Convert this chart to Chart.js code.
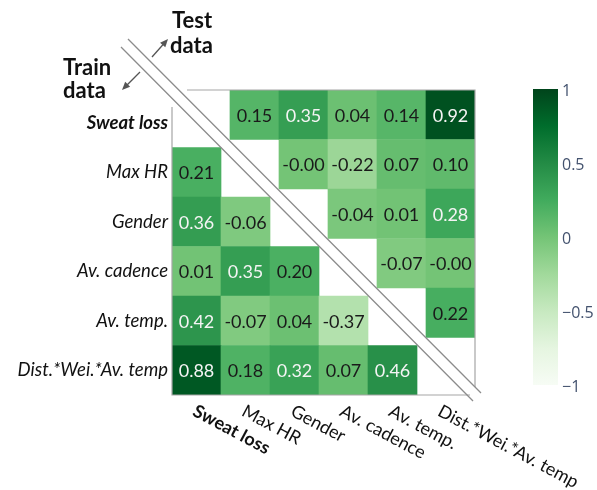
<!DOCTYPE html>
<html>
<head>
<meta charset="utf-8">
<script src="https://cdn.jsdelivr.net/npm/chart.js@4.4.1/dist/chart.umd.min.js"></script>
<style>
  html, body { margin: 0; padding: 0; background: #fff; }
  #wrap { width: 597px; height: 490px; position: relative; }
</style>
</head>
<body>
<div id="wrap"><canvas id="heatmap"></canvas></div>
<script>
const rowLabels = ["Sweat loss", "Max HR", "Gender", "Av. cadence", "Av. temp.", "Dist.*Wei.*Av. temp"];
const colLabels = ["Sweat loss", "Max HR", "Gender", "Av. cadence", "Av. temp.", "Dist.*Wei.*Av. temp"];

// train data = lower triangle, row r holds columns 0..r-1
const trainValues = [
  [],
  [0.21],
  [0.36, -0.06],
  [0.01, 0.35, 0.20],
  [0.42, -0.07, 0.04, -0.37],
  [0.88, 0.18, 0.32, 0.07, 0.46]
];
// test data = upper triangle, row r holds columns r+1..5
const testValues = [
  [0.15, 0.35, 0.04, 0.14, 0.92],
  [-0.00, -0.22, 0.07, 0.10],
  [-0.04, 0.01, 0.28],
  [-0.07, -0.00],
  [0.22],
  []
];
const colorbarTicks = [1, 0.5, 0, -0.5, -1];
const colorbarLabels = ["1", "0.5", "0", "\u22120.5", "\u22121"];

// Greens colour scale, -1 -> 1
const greens = [[247,252,245],[229,245,224],[199,233,192],[161,217,155],[116,196,118],[65,171,93],[35,139,69],[0,109,44],[0,68,27]];
function greenFor(v) {
  let t = (v + 1) / 2 * 8;
  let i = Math.min(7, Math.max(0, Math.floor(t)));
  let f = t - i;
  let a = greens[i], b = greens[i + 1];
  let c = a.map((x, k) => Math.round(x + (b[k] - x) * f));
  return `rgb(${c[0]},${c[1]},${c[2]})`;
}
function fmt(v) {
  return (v < 0 || Object.is(v, -0)) ? "-" + Math.abs(v).toFixed(2) : v.toFixed(2);
}

let trainCells = [];
trainValues.forEach((row, r) => row.forEach((v, c) => trainCells.push({ x: c, y: [r - 0.5, r + 0.5], v: v })));
let testCells = [];
testValues.forEach((row, r) => row.forEach((v, i) => testCells.push({ x: r + 1 + i, y: [r - 0.5, r + 0.5], v: v })));

// the two triangles are offset along the diagonal
const cellW = 49.1, cellH = 49.5, shiftX = 9, shiftY = 8;
const spanX = 6 + shiftX / cellW, spanY = 6 + shiftY / cellH;
const intTicks = s => { s.ticks = rowLabels.map((_, i) => ({ value: i })); };
// axes that only position the cells: ticks kept at whole cells, nothing drawn, no room taken
const silentAxis = extra => Object.assign({
  type: "linear", offset: false, display: true,
  grid: { display: false, drawTicks: false }, border: { display: false },
  ticks: { display: false },
  afterBuildTicks: intTicks,
  afterFit: s => { if (s.isHorizontal()) s.height = 0; else s.width = 0; }
}, extra);

function arrow(ctx, x0, y0, x1, y1) {
  let ang = Math.atan2(y1 - y0, x1 - x0);
  ctx.beginPath();
  ctx.moveTo(x0, y0);
  ctx.lineTo(x1 - 5 * Math.cos(ang), y1 - 5 * Math.sin(ang));
  ctx.stroke();
  ctx.beginPath();
  ctx.moveTo(x1, y1);
  ctx.lineTo(x1 - 8 * Math.cos(ang) + 3.5 * Math.sin(ang), y1 - 8 * Math.sin(ang) - 3.5 * Math.cos(ang));
  ctx.lineTo(x1 - 8 * Math.cos(ang) - 3.5 * Math.sin(ang), y1 - 8 * Math.sin(ang) + 3.5 * Math.cos(ang));
  ctx.closePath();
  ctx.fill();
}

const decorations = {
  id: "decorations",
  afterDatasetsDraw(chart) {
    let ctx = chart.ctx;
    ctx.save();
    ctx.font = "18px Lato";
    ctx.textAlign = "center";
    ctx.textBaseline = "middle";
    chart.data.datasets.forEach((ds, di) => {
      chart.getDatasetMeta(di).data.forEach((bar, i) => {
        let v = ds.data[i].v;
        ctx.fillStyle = v > 0.25 ? "#f4f4f4" : "#1a1a1a";
        ctx.fillText(fmt(v), bar.x, (bar.y + bar.base) / 2 + 1);
      });
    });
    ctx.restore();
  },
  afterDraw(chart) {
    let ctx = chart.ctx;
    let s = chart.scales;
    let lx0 = s.x.getPixelForValue(-0.5), lx1 = s.x.getPixelForValue(5.5);
    let ly0 = s.y.getPixelForValue(-0.5), ly1 = s.y.getPixelForValue(5.5);
    let ux0 = s.x2.getPixelForValue(-0.5), ux1 = s.x2.getPixelForValue(5.5);
    let uy0 = s.y2.getPixelForValue(-0.5), uy1 = s.y2.getPixelForValue(5.5);
    ctx.save();

    // frames
    ctx.strokeStyle = "#a6a6a6";
    ctx.lineWidth = 1.2;
    ctx.beginPath();
    ctx.moveTo(lx0, ly0 + 9); ctx.lineTo(lx0, ly1); ctx.lineTo(lx1 + 4, ly1);
    ctx.moveTo(ux0 + 6, uy0); ctx.lineTo(ux1, uy0); ctx.lineTo(ux1, uy1);
    ctx.stroke();

    // diagonal separators
    ctx.strokeStyle = "#8c8c8c";
    ctx.lineWidth = 1.3;
    ctx.beginPath();
    ctx.moveTo(lx0 - 51, ly0 - 51); ctx.lineTo(lx1 + 7, ly1 + 6);
    ctx.moveTo(ux0 - 53, uy0 - 51); ctx.lineTo(ux1 + 6, uy1 + 6);
    ctx.stroke();

    // arrows
    ctx.strokeStyle = "#555";
    ctx.fillStyle = "#555";
    ctx.lineWidth = 1.3;
    arrow(ctx, 152, 57, 168, 39);
    arrow(ctx, 140, 72, 122, 90);

    // corner titles
    ctx.fillStyle = "#111";
    ctx.font = "bold 22px Lato";
    ctx.textAlign = "left";
    ctx.textBaseline = "alphabetic";
    ctx.fillText("Test", 172, 28);
    ctx.fillText("data", 170, 53);
    ctx.fillText("Train", 63, 75);
    ctx.fillText("data", 63, 98);

    // rotated x labels
    ctx.textBaseline = "top";
    colLabels.forEach((lab, i) => {
      ctx.save();
      ctx.translate(s.x.getPixelForValue(i) + 2, ly1 + 7);
      ctx.rotate(28 * Math.PI / 180);
      ctx.font = (i === 0 ? "bold " : "") + "18px Lato";
      ctx.fillText(lab, 0, 0);
      ctx.restore();
    });

    // colour bar
    let cbX = 533, cbW = 25, cbTop = 89, cbBot = 385;
    let grad = ctx.createLinearGradient(0, cbTop, 0, cbBot);
    greens.forEach((c, k) => grad.addColorStop(1 - k / 8, `rgb(${c[0]},${c[1]},${c[2]})`));
    ctx.fillStyle = grad;
    ctx.fillRect(cbX, cbTop, cbW, cbBot - cbTop);
    ctx.fillStyle = "#43526e";
    ctx.font = "16px 'Open Sans'";
    ctx.textBaseline = "middle";
    colorbarTicks.forEach((t, k) => {
      let y = cbTop + (1 - t) / 2 * (cbBot - cbTop) + 2;
      ctx.fillText(colorbarLabels[k], cbX + cbW + 4, y);
    });
    ctx.restore();
  }
};

new Chart(document.getElementById("heatmap"), {
  type: "bar",
  data: {
    datasets: [
      { label: "Train", data: trainCells, xAxisID: "x", yAxisID: "y",
        backgroundColor: c => greenFor(c.raw.v) },
      { label: "Test", data: testCells, xAxisID: "x2", yAxisID: "y2",
        backgroundColor: c => greenFor(c.raw.v) }
    ]
  },
  options: {
    responsive: true,
    maintainAspectRatio: false,
    animation: false,
    layout: { padding: { left: 7, right: 122, top: 90, bottom: 95 } },
    datasets: {
      bar: { grouped: false, barPercentage: 1, categoryPercentage: 1, borderWidth: 0 }
    },
    plugins: { legend: { display: false }, tooltip: { enabled: false }, colors: { enabled: false } },
    scales: {
      x: silentAxis({ position: "bottom", min: -0.5, max: -0.5 + spanX }),
      x2: silentAxis({ position: "top", min: 5.5 - spanX, max: 5.5 }),
      y: {
        type: "linear", position: "left", reverse: true, min: 5.5 - spanY, max: 5.5,
        grid: { display: false, drawTicks: false }, border: { display: false },
        afterBuildTicks: intTicks,
        afterFit: s => { s.width = 165; },
        ticks: {
          autoSkip: false,
          padding: 4,
          color: "#111",
          font: c => ({ family: "Lato", size: 18.5, style: "italic", weight: c.index === 0 ? "bold" : "normal" }),
          callback: (v, i) => rowLabels[i]
        }
      },
      y2: silentAxis({ position: "right", reverse: true, min: -0.5, max: -0.5 + spanY })
    }
  },
  plugins: [decorations]
});
</script>
</body>
</html>
